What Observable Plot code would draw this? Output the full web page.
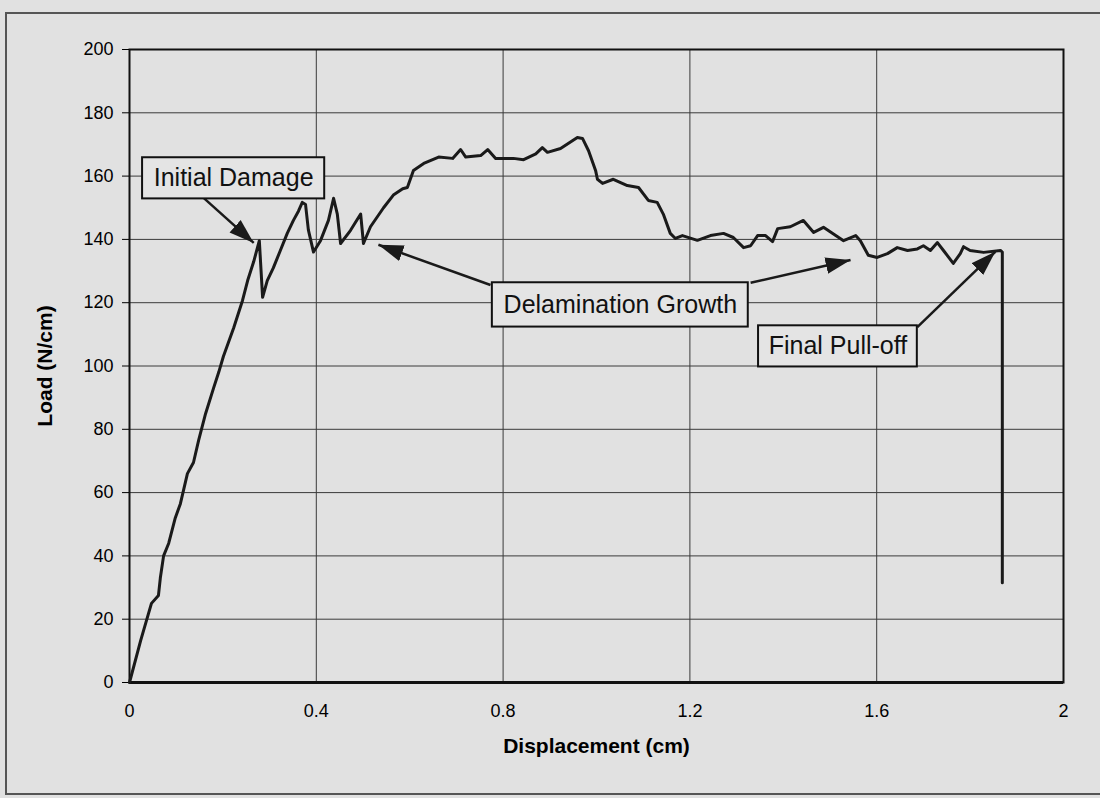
<!DOCTYPE html>
<html><head><meta charset="utf-8">
<script src="https://cdn.jsdelivr.net/npm/d3@7"></script>
<script src="https://cdn.jsdelivr.net/npm/@observablehq/plot@0.6"></script>
<style>
body{margin:0;background:#e1e1e1;}
#wrap{position:relative;width:1100px;height:798px;overflow:hidden;}
#border{position:absolute;left:5px;top:12px;width:1110px;height:779px;border:2px solid #555;pointer-events:none;}
#wrap svg{position:absolute;left:0;top:0;}
</style></head><body><div id="wrap"><div id="border"></div></div>
<script>
const disp = [0,0.024,0.047,0.062,0.066,0.073,0.084,0.098,0.109,0.124,0.137,0.148,0.163,0.18,0.191,0.201,0.223,0.242,0.253,0.266,0.278,0.285,0.295,0.308,0.323,0.338,0.351,0.362,0.37,0.377,0.383,0.394,0.409,0.426,0.437,0.445,0.452,0.473,0.495,0.501,0.516,0.544,0.565,0.585,0.595,0.608,0.63,0.662,0.692,0.709,0.72,0.752,0.767,0.784,0.822,0.844,0.87,0.884,0.895,0.923,0.959,0.97,0.983,0.998,1.002,1.013,1.036,1.066,1.09,1.111,1.13,1.143,1.158,1.169,1.184,1.216,1.244,1.272,1.293,1.315,1.33,1.345,1.362,1.377,1.388,1.415,1.443,1.465,1.486,1.529,1.555,1.565,1.582,1.601,1.623,1.644,1.666,1.687,1.7,1.715,1.73,1.743,1.764,1.779,1.786,1.8,1.829,1.865,1.869,1.869];
const load = [0,13.3,25,27.5,33,40,44,52,56.5,66,69.5,76.5,85,93,98,103,112,120.7,127,133,139.6,121.7,127,131,136.5,142,146,149,151.7,151,143,136,139.6,146,153,148,138.7,142.8,148,138.7,144,150,154,156,156.4,161.8,164,166,165.6,168.4,166,166.5,168.4,165.6,165.6,165.2,167,169,167.5,168.7,172.2,171.9,168,161.8,159,157.7,159,157,156.4,152.3,151.7,148,141.9,140.3,141.2,139.7,141.2,141.9,140.6,137.4,138,141.2,141.2,139.3,143.4,144,146,142.2,143.8,139.6,141.2,139.6,135,134.3,135.5,137.4,136.5,137,138,136.5,139,136.5,132.4,135.5,137.7,136.5,135.9,136.5,136,31.5];
const xTicks = [0, 0.4, 0.8, 1.2, 1.6, 2];
const yTicks = [0, 20, 40, 60, 80, 100, 120, 140, 160, 180, 200];

// annotation boxes (data units)
const boxLabels = ["Initial Damage", "Delamination Growth", "Final Pull-off"];
const boxX1 = [0.028, 0.777, 1.347];
const boxX2 = [0.418, 1.325, 1.687];
const boxY1 = [152.8, 112.3, 99.7];
const boxY2 = [165.8, 126.3, 112.7];
// annotation arrows (data units): start -> tip
const arrX1 = [0.158, 0.773, 1.33, 1.687];
const arrY1 = [153.2, 125.6, 126.3, 112.3];
const arrX2 = [0.266, 0.533, 1.544, 1.854];
const arrY2 = [138.9, 138.3, 133.5, 136.1];

const pts = disp.map((d, i) => ({x: d, y: load[i]}));
const boxes = boxLabels.map((t, i) => ({t, x1: boxX1[i], x2: boxX2[i], y1: boxY1[i], y2: boxY2[i]}));
const arrows = arrX1.map((d, i) => ({x1: d, y1: arrY1[i], x2: arrX2[i], y2: arrY2[i]}));

const chart = Plot.plot({
  width: 1100, height: 798,
  marginLeft: 129, marginRight: 37, marginTop: 49, marginBottom: 116,
  style: {background: "transparent", fontFamily: "'Liberation Sans', Arial, sans-serif", fontSize: "18px", color: "#000"},
  x: {domain: [0, 2]},
  y: {domain: [0, 200]},
  marks: [
    Plot.gridX(xTicks, {stroke: "#3a3a3a", strokeOpacity: 1, strokeWidth: 1}),
    Plot.gridY(yTicks, {stroke: "#3a3a3a", strokeOpacity: 1, strokeWidth: 1}),
    Plot.frame({stroke: "#111", strokeWidth: 2}),
    Plot.axisX(xTicks, {tickSize: 0, tickPadding: 22, fontSize: 18, tickFormat: d => String(d),
      label: "Displacement (cm)", labelAnchor: "center", labelArrow: "none", labelOffset: 70}),
    Plot.axisY(yTicks, {tickSize: 7, tickPadding: 9, fontSize: 18, tickFormat: d => String(d),
      label: "Load (N/cm)", labelAnchor: "center", labelArrow: "none", labelOffset: 92}),
    Plot.ruleY([0], {stroke: "#111", strokeWidth: 3}),
    Plot.line(pts, {x: "x", y: "y", stroke: "#1a1a1a", strokeWidth: 3, strokeLinejoin: "round", strokeLinecap: "round"}),
    Plot.link(arrows, {x1: "x1", y1: "y1", x2: "x2", y2: "y2", stroke: "#1a1a1a", strokeWidth: 2.5}),
    Plot.rect(boxes, {x1: "x1", x2: "x2", y1: "y1", y2: "y2", fill: "#e4e4e4", stroke: "#111", strokeWidth: 2}),
    Plot.text(boxes, {x: d => (d.x1 + d.x2) / 2, y: d => (d.y1 + d.y2) / 2, text: "t", fontSize: 25, fill: "#111"})
  ]
});
document.getElementById("wrap").appendChild(chart);

const svg = d3.select(chart);
svg.selectAll('[aria-label="x-axis label"] text, [aria-label="y-axis label"] text')
  .style("font-weight", "bold").style("font-size", "21px");
const defs = svg.insert("defs", ":first-child");
defs.append("marker").attr("id", "tri").attr("viewBox", "0 0 12 8").attr("refX", 12).attr("refY", 4)
  .attr("markerWidth", 10).attr("markerHeight", 7).attr("orient", "auto").attr("markerUnits", "strokeWidth")
  .append("path").attr("d", "M0,0L12,4L0,8Z").attr("fill", "#1a1a1a");
svg.selectAll('[aria-label="link"] path').attr("marker-end", "url(#tri)");
</script></body></html>
